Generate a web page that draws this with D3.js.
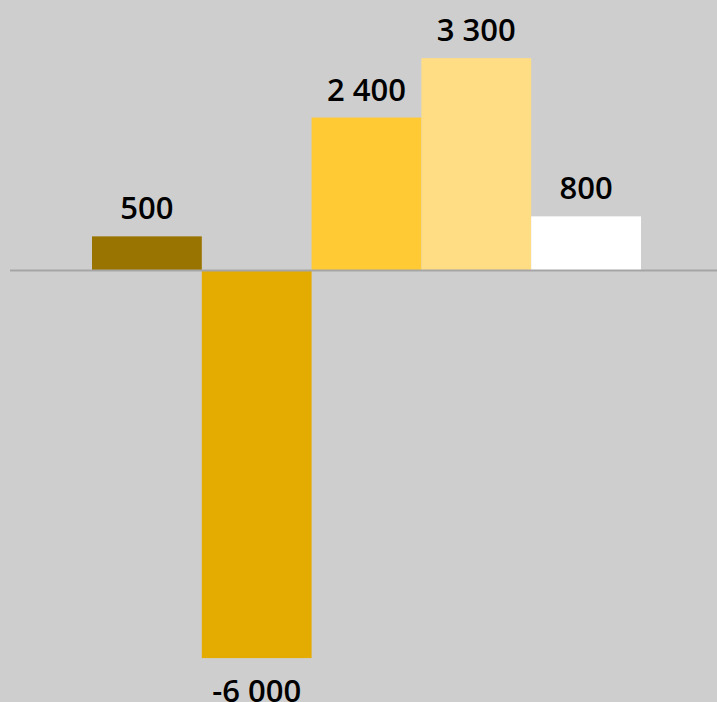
<html>

<head>
	<script src="https://d3js.org/d3.v7.min.js"></script>
	<style>
		body {
			margin: 0;
			background: #cecece;
		}
	</style>
</head>

<body>
	<div id="chart"></div>
	<script>
		let categories = ["A", "B", "C", "D", "E"];
		// bar heights; labels are the rounded figures shown
		let values = [530, -6000, 2370, 3290, 840];
		let labels = ["500", "-6 000", "2 400", "3 300", "800"];
		let colors = ["#9a7400", "#e4ab00", "#ffca33", "#ffdd85", "#ffffff"];

		let width = 717, height = 702;

		let svg = d3.select("#chart").append("svg")
			.attr("width", width)
			.attr("height", height);

		svg.append("rect")
			.attr("width", width)
			.attr("height", height)
			.attr("fill", "#cecece");

		let x = d3.scaleBand()
			.domain(categories)
			.range([92, 641])
			.padding(0);

		let y = d3.scaleLinear()
			.domain([-6680, 4190])
			.range([height, 0]);

		svg.selectAll(".bar").data(values).enter().append("rect")
			.attr("class", "bar")
			.attr("x", (d, i) => x(categories[i]))
			.attr("width", x.bandwidth())
			.attr("y", d => y(Math.max(0, d)))
			.attr("height", d => Math.abs(y(d) - y(0)))
			.attr("fill", (d, i) => colors[i]);

		// zero line
		svg.append("line")
			.attr("x1", 10)
			.attr("x2", width)
			.attr("y1", y(0))
			.attr("y2", y(0))
			.attr("stroke", "#a5a5a5")
			.attr("stroke-width", 2);

		svg.selectAll(".lbl").data(values).enter().append("text")
			.attr("class", "lbl")
			.attr("x", (d, i) => x(categories[i]) + x.bandwidth() / 2)
			.attr("y", d => d >= 0 ? y(d) - 17 : y(d) + 44)
			.attr("text-anchor", "middle")
			.attr("font-family", "'Open Sans', sans-serif")
			.attr("font-weight", 600)
			.attr("font-size", 31)
			.attr("fill", "#000")
			.text((d, i) => labels[i]);
	</script>
</body>

</html>
